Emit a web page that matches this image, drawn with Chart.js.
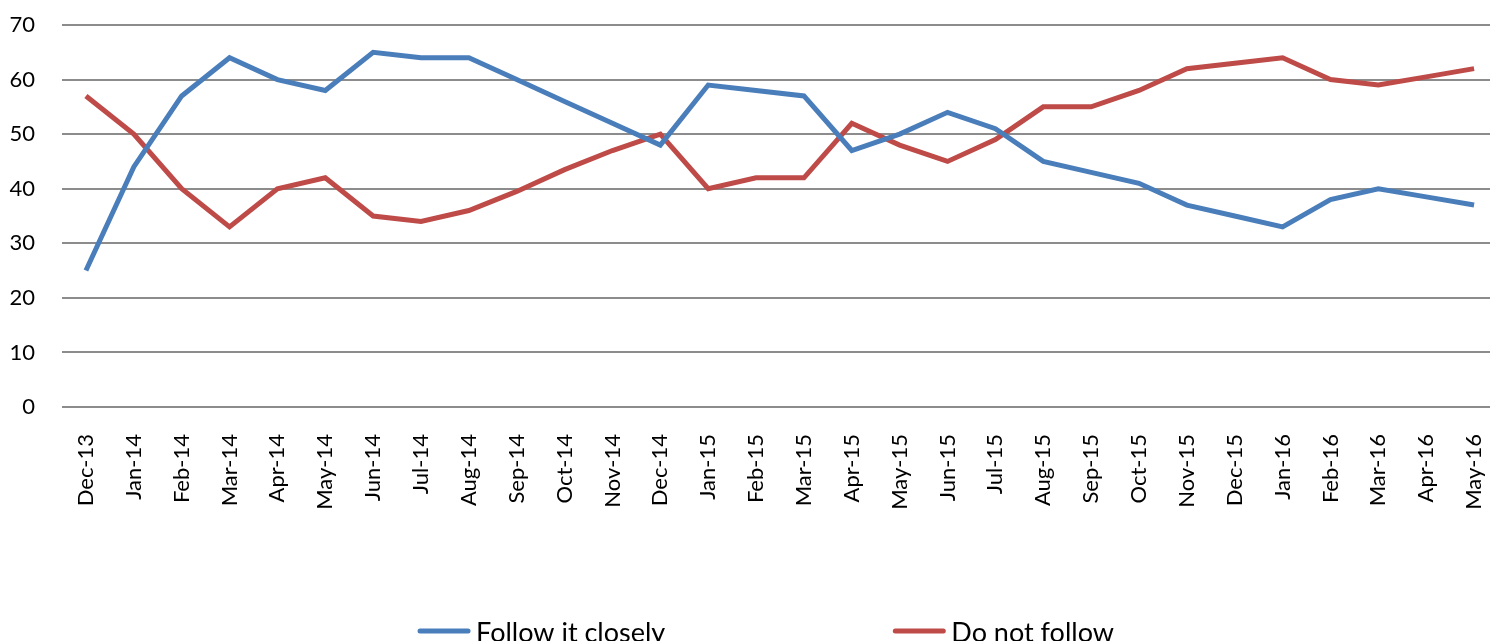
<!DOCTYPE html>
<html>
<head>
<meta charset="utf-8">
<script src="https://cdn.jsdelivr.net/npm/chart.js@4"></script>
<style>
  html, body { margin: 0; padding: 0; overflow: hidden; background: #fff; }
  #wrap { width: 1498px; height: 641px; position: relative; }
</style>
</head>
<body>
<div id="wrap"><canvas id="chart"></canvas></div>
<script>
const months = ['Dec-13', 'Jan-14', 'Feb-14', 'Mar-14', 'Apr-14', 'May-14', 'Jun-14', 'Jul-14', 'Aug-14', 'Sep-14',
    'Oct-14', 'Nov-14', 'Dec-14', 'Jan-15', 'Feb-15', 'Mar-15', 'Apr-15', 'May-15', 'Jun-15', 'Jul-15',
    'Aug-15', 'Sep-15', 'Oct-15', 'Nov-15', 'Dec-15', 'Jan-16', 'Feb-16', 'Mar-16', 'Apr-16', 'May-16'];

const followClosely = [25, 44, 57, 64, 60, 58, 65, 64, 64, 60, 56, 52, 48, 59, 58, 57, 47, 50, 54, 51,
    45, 43, 41, 37, 35, 33, 38, 40, 38.5, 37];

const doNotFollow = [57, 50, 40, 33, 40, 42, 35, 34, 36, 39.5, 43.5, 47, 50, 40, 42, 42, 52, 48, 45, 49,
    55, 55, 58, 62, 63, 64, 60, 59, 60.5, 62];

const colors = {
    blue: '#4A7EBB',
    red: '#BE4B48'
};

const font = "'Lato', 'Open Sans', sans-serif";

// legend drawn by hand: Excel spaces the two items much further apart than chart.js does
const wideLegend = {
    id: 'wideLegend',
    afterDraw(chart) {
        const ctx = chart.ctx;
        const y = 633;
        const lineLen = 52;
        const gap = 228;
        ctx.save();
        ctx.font = '27px ' + font;
        ctx.textBaseline = 'middle';
        ctx.textAlign = 'left';
        const items = chart.data.datasets.map(ds => ({
            text: ds.label,
            color: ds.borderColor,
            w: lineLen + 6 + ctx.measureText(ds.label).width
        }));
        const total = items.reduce((s, it) => s + it.w, 0) + gap * (items.length - 1);
        let x = chart.width / 2 + 17 - total / 2;
        items.forEach(it => {
            ctx.strokeStyle = it.color;
            ctx.lineWidth = 5;
            ctx.lineCap = 'round';
            ctx.beginPath();
            ctx.moveTo(x + 2, y - 2);
            ctx.lineTo(x + lineLen - 2, y - 2);
            ctx.stroke();
            ctx.fillStyle = '#000';
            ctx.fillText(it.text, x + lineLen + 6, y);
            x += it.w + gap;
        });
        ctx.restore();
    }
};

new Chart(document.getElementById('chart'), {
    type: 'line',
    data: {
        labels: months,
        datasets: [{
            label: 'Follow it closely',
            data: followClosely,
            borderColor: colors.blue,
            backgroundColor: colors.blue,
            borderWidth: 5,
            pointRadius: 0,
            tension: 0
        }, {
            label: 'Do not follow',
            data: doNotFollow,
            borderColor: colors.red,
            backgroundColor: colors.red,
            borderWidth: 5,
            pointRadius: 0,
            tension: 0
        }]
    },
    plugins: [wideLegend],
    options: {
        responsive: true,
        maintainAspectRatio: false,
        animation: false,
        layout: { padding: { top: 25, left: 8, right: 0, bottom: 124 } },
        plugins: {
            tooltip: { enabled: false },
            legend: { display: false }
        },
        scales: {
            x: {
                offset: true,
                grid: { display: false },
                border: { display: false },
                afterFit: axis => {
                    axis.height = 110;
                    axis.paddingLeft = 0;
                    axis.paddingRight = 0;
                },
                ticks: {
                    color: '#000',
                    font: { family: font, size: 22 },
                    maxRotation: 90,
                    minRotation: 90,
                    autoSkip: false,
                    padding: 19
                }
            },
            y: {
                min: 0,
                max: 70,
                grid: { color: '#8C8C8C', lineWidth: 2, drawTicks: false },
                border: { display: false },
                afterFit: axis => {
                    axis.width = 54;
                    axis.paddingTop = 0;
                    axis.paddingBottom = 0;
                },
                ticks: {
                    stepSize: 10,
                    color: '#000',
                    font: { family: font, size: 22 },
                    padding: 27
                }
            }
        }
    }
});
</script>
</body>
</html>
